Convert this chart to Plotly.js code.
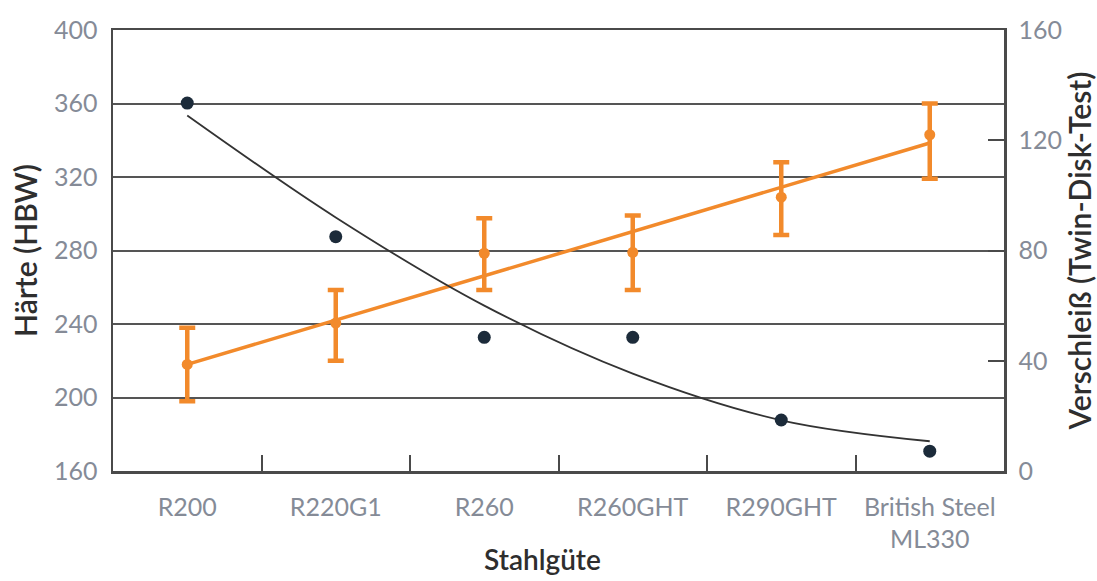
<!DOCTYPE html>
<html>
<head>
<meta charset="utf-8">
<script src="https://cdn.plot.ly/plotly-3.0.1.min.js"></script>
<style>html,body{margin:0;padding:0;background:#fff;}#chart{width:1097px;height:581px;}</style>
</head>
<body>
<div id="chart"></div>
<script>
// Categories (steel grades)
const categories = ["R200", "R220G1", "R260", "R260GHT", "R290GHT", "British Steel<br>ML330"];
// Hardness (HBW), left axis
const hardness = [218, 240.5, 278.5, 279, 309, 343];
const hardnessErrPlus = [20, 18, 19, 20, 19, 17];
const hardnessErrMinus = [20, 20.5, 20, 20.5, 20.5, 24];
// Hardness linear trend (read at first and last category)
const hardnessTrendX = ["R200", "British Steel<br>ML330"];
const hardnessTrend = [218, 338.5];
// Wear (Twin-Disk-Test), right axis
const wear = [133.5, 85, 48.5, 48.5, 18.5, 7.2];
// Wear trend curve (read at each category)
const wearTrend = [129, 92, 60, 35.3, 18.4, 10.8];

const orange = "#F28A2B";
const dark = "#1C2B3A";
const tickColor = "#858B97";
const titleColor = "#2E2E2E";
const lineColor = "#4A4A4A";
const fontFam = "Lato, 'Open Sans', sans-serif";

const traces = [
  {
    x: categories, y: wearTrend, yaxis: "y2", type: "scatter", mode: "lines",
    line: {color: "#333333", width: 1.8, shape: "spline", smoothing: 1},
    hoverinfo: "skip", showlegend: false
  },
  {
    x: categories, y: wear, yaxis: "y2", type: "scatter", mode: "markers",
    marker: {color: dark, size: 13}, showlegend: false
  },
  {
    x: hardnessTrendX, y: hardnessTrend, type: "scatter", mode: "lines",
    line: {color: orange, width: 3.5}, showlegend: false
  },
  {
    x: categories, y: hardness, type: "scatter", mode: "markers",
    marker: {color: orange, size: 11},
    error_y: {type: "data", symmetric: false, array: hardnessErrPlus, arrayminus: hardnessErrMinus,
              color: orange, thickness: 4.5, width: 8},
    showlegend: false
  }
];

const layout = {
  width: 1097, height: 581,
  margin: {l: 113, r: 93, t: 30, b: 110},
  paper_bgcolor: "#ffffff", plot_bgcolor: "#ffffff",
  font: {family: fontFam, color: tickColor},
  xaxis: {
    type: "category",
    range: [-0.5, 5.5],
    showline: true, linecolor: lineColor, linewidth: 2.5, mirror: true,
    ticks: "inside", tickson: "boundaries", ticklen: 16, tickwidth: 2, tickcolor: lineColor,
    showgrid: false, zeroline: false,
    tickfont: {size: 25, color: tickColor, family: fontFam},
    ticklabelstandoff: 12
  },
  yaxis: {
    range: [160, 400], tick0: 160, dtick: 40,
    showline: true, linecolor: lineColor, linewidth: 2.5,
    showgrid: true, gridcolor: "#555555", gridwidth: 2,
    zeroline: false, ticks: "",
    tickfont: {size: 25, color: tickColor, family: fontFam},
    ticklabelstandoff: 8,
    title: {text: "Härte (HBW)", font: {size: 30, color: titleColor, family: fontFam, weight: 600}, standoff: 8}
  },
  yaxis2: {
    overlaying: "y", side: "right",
    range: [0, 160], tick0: 0, dtick: 40,
    showline: true, linecolor: lineColor, linewidth: 2.5,
    showgrid: false, zeroline: false,
    ticks: "inside", ticklen: 16, tickwidth: 2, tickcolor: lineColor,
    tickfont: {size: 25, color: tickColor, family: fontFam},
    ticklabelstandoff: 7,
    title: {text: "Verschleiß (Twin-Disk-Test)", font: {size: 30, color: titleColor, family: fontFam, weight: 600}, standoff: 10}
  },
  annotations: [{
    text: "Stahlgüte", xref: "paper", yref: "paper", x: 0.482, y: -0.2,
    xanchor: "center", yanchor: "middle", showarrow: false,
    font: {size: 28, color: titleColor, family: fontFam, weight: 600}
  }],
  showlegend: false
};

Plotly.newPlot("chart", traces, layout, {staticPlot: true});
</script>
</body>
</html>
